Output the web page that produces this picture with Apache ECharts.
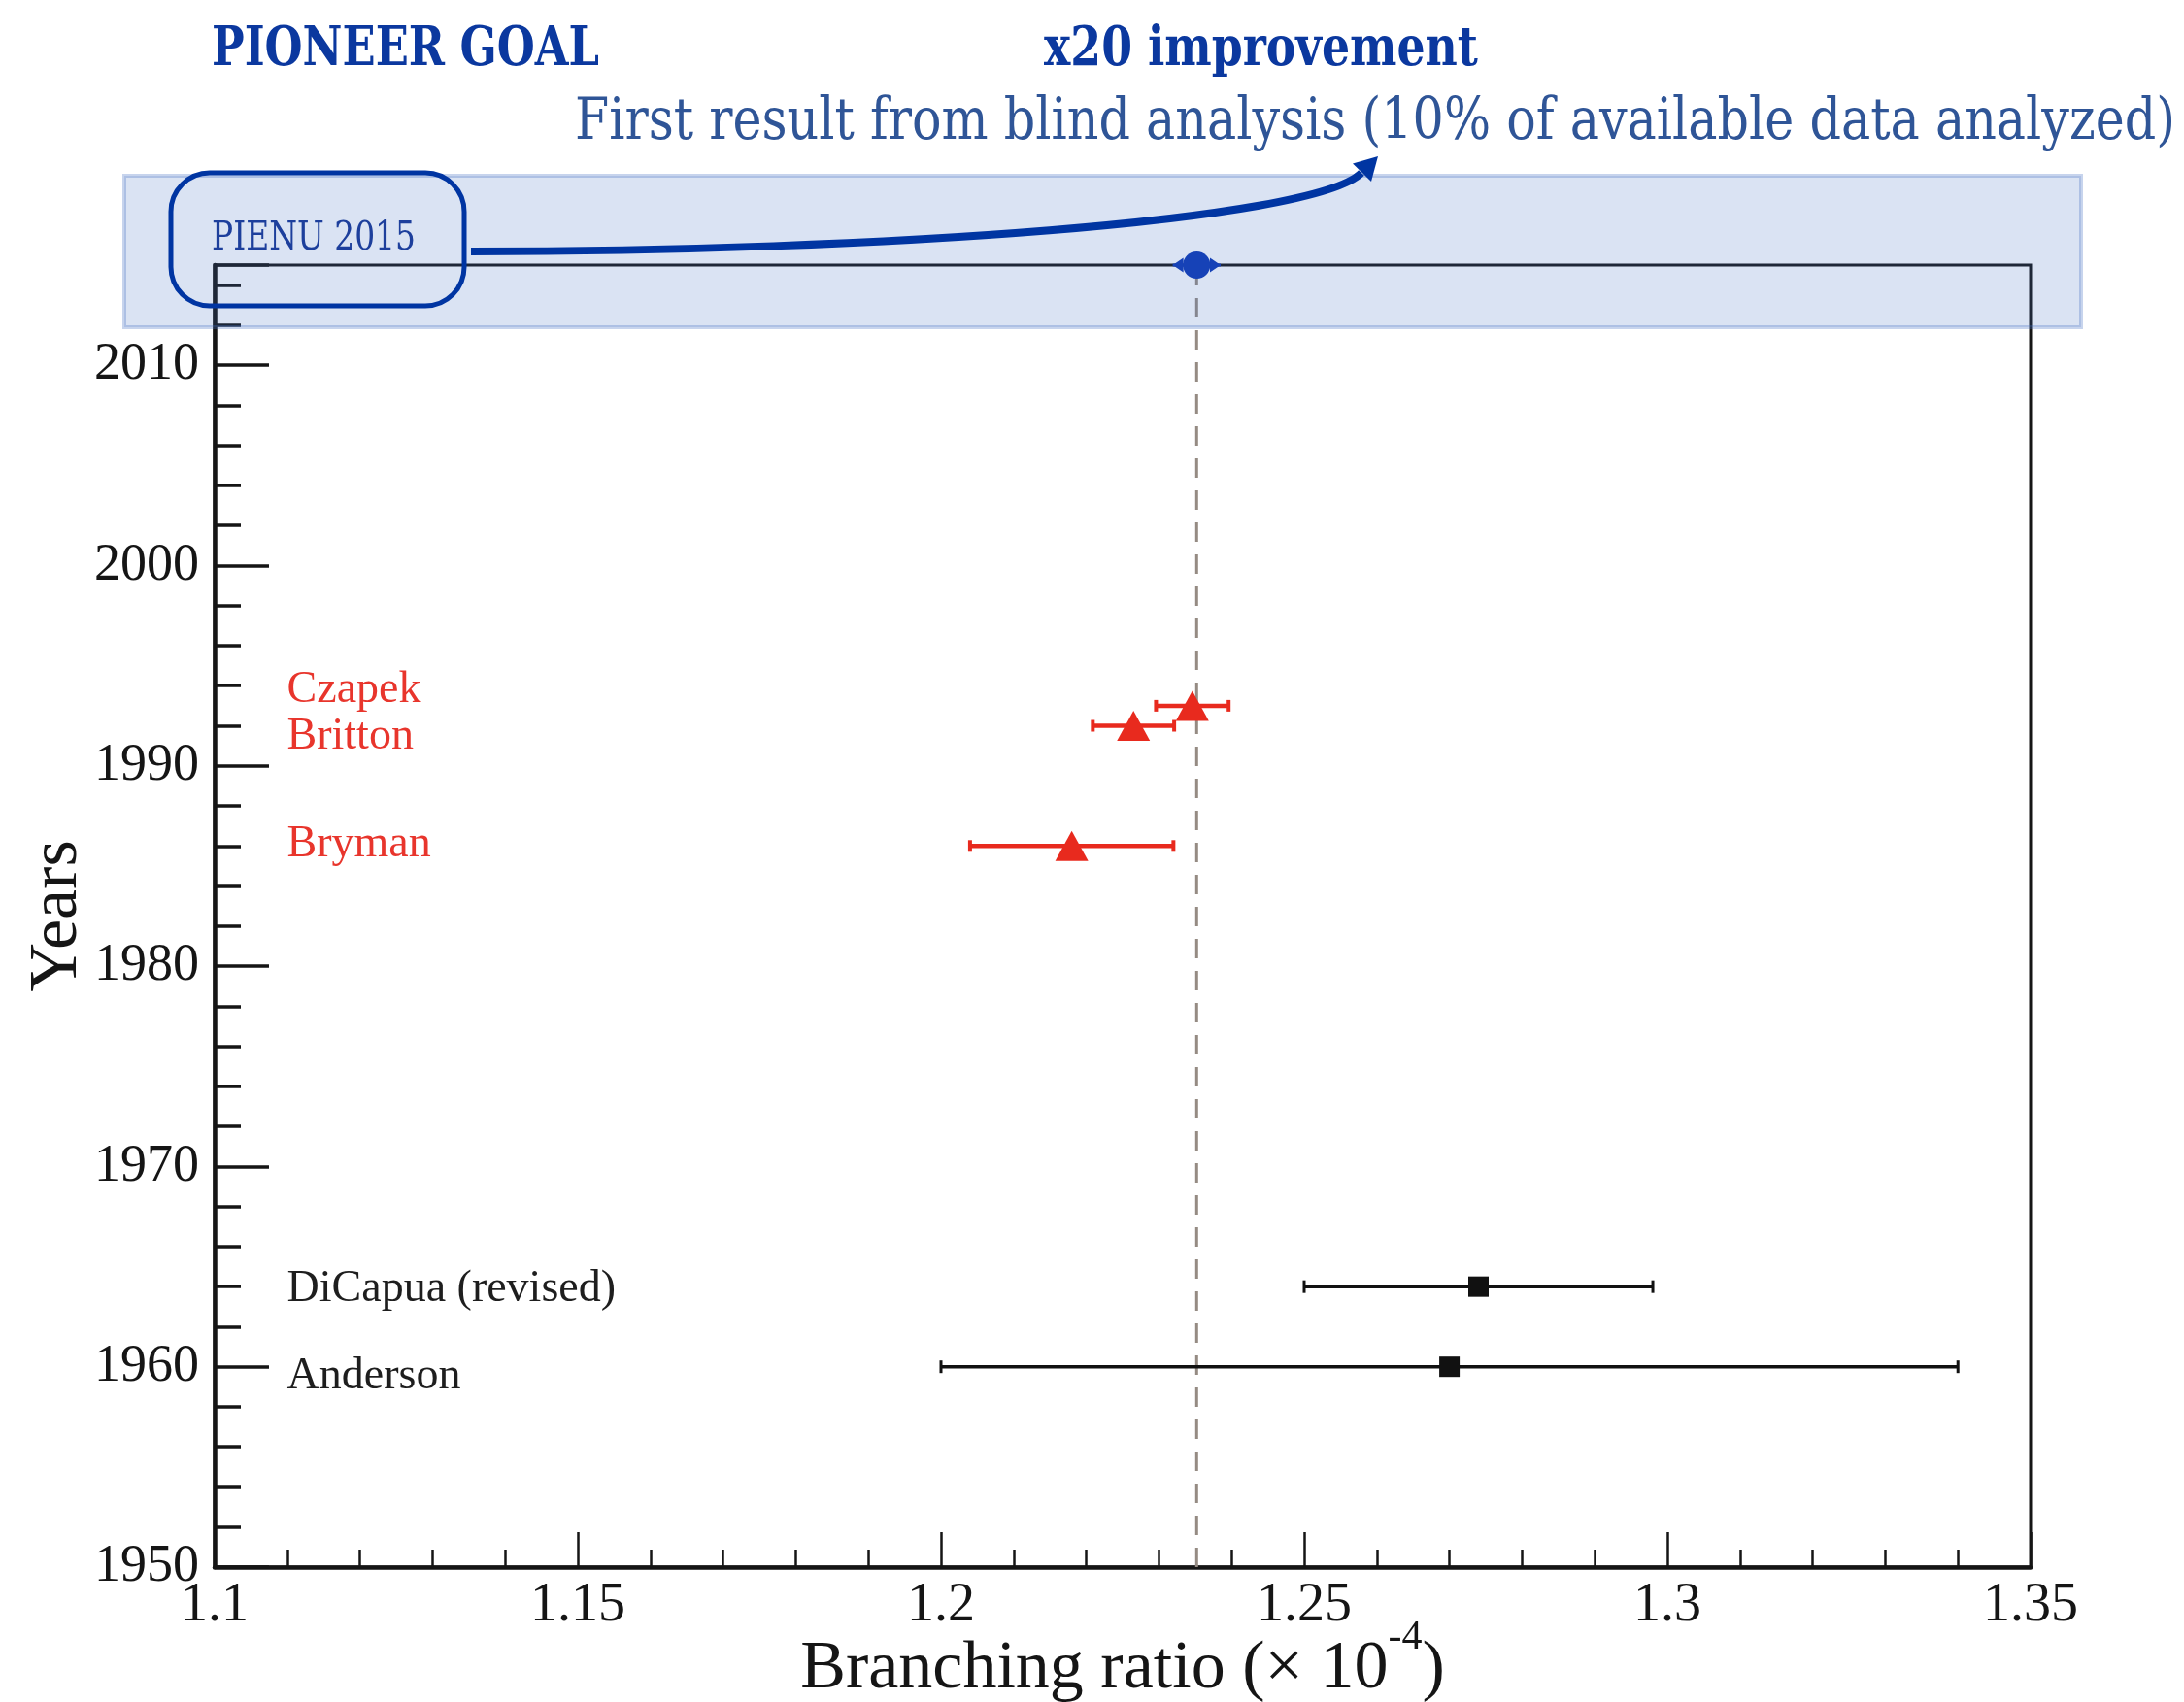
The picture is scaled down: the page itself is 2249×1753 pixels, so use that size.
<!DOCTYPE html>
<html>
<head>
<meta charset="utf-8">
<script src="https://cdn.jsdelivr.net/npm/echarts@6/dist/echarts.min.js"></script>
<style>
  html, body { margin: 0; padding: 0; background: #ffffff; }
  #chart { width: 2249px; height: 1753px; }
</style>
</head>
<body>
<div id="chart"></div>
<script>
// pi -> e nu branching ratio measurements (x 10^-4) by publication year
const experiments = ['Anderson', 'DiCapua (revised)', 'Bryman', 'Britton', 'Czapek', 'PIENU 2015'];
const years  = [1960, 1964, 1986, 1992, 1993, 2015];
const ratios = [1.270, 1.274, 1.218, 1.2265, 1.2346, 1.2352];
const errors = [0.070, 0.024, 0.014, 0.0056, 0.0050, 0.0033];
const groups = ['early', 'early', 'triumf', 'triumf', 'triumf', 'pienu'];

// Standard Model prediction (dashed reference line)
const smPrediction = 1.2352;

// axis tick labels
const xTickLabels = ['1.1', '1.15', '1.2', '1.25', '1.3', '1.35'];
const yTickLabels = ['1950', '1960', '1970', '1980', '1990', '2000', '2010'];

// experiment name annotations (text and the year level they sit at)
const noteTexts = ['Czapek', 'Britton', 'Bryman', 'DiCapua (revised)', 'Anderson'];
const noteYears = [1993.75, 1991.45, 1986.05, 1963.85, 1959.5];
const noteColors = ['#e8352c', '#e8352c', '#e8352c', '#1e1e1e', '#1e1e1e'];
const noteX = 1.1099;

// ---- styling ----
const SERIF = 'Liberation Serif';
const INK = '#151515';
const groupStyle = {
  early:  { color: '#111111', bar: 3.5, cap: 13, capW: 3, symbol: 'rect', size: 21 },
  triumf: { color: '#e82a1e', bar: 4.5, cap: 12, capW: 4, symbol: 'triangle', size: [34, 31] },
  pienu:  { color: '#0a36b4', bar: 3, arrowCaps: true, symbol: 'circle', size: 28 }
};

const gridBox = { left: 221, right: 158, top: 273, bottom: 139, outerBoundsMode: 'none', containLabel: false };

function renderErrorBar(params, api) {
  const g = groupStyle[groups[params.dataIndex]];
  const x = api.value(0), y = api.value(1), e = api.value(2);
  const lo = api.coord([x - e, y]);
  const hi = api.coord([x + e, y]);
  const children = [{
    type: 'line',
    shape: { x1: lo[0], y1: lo[1], x2: hi[0], y2: hi[1] },
    style: { stroke: g.color, lineWidth: g.bar }
  }];
  if (g.arrowCaps) {
    const len = 11, half = 7.5;
    children.push({
      type: 'polygon',
      shape: { points: [[lo[0], lo[1]], [lo[0] + len, lo[1] - half], [lo[0] + len, lo[1] + half]] },
      style: { fill: g.color }
    });
    children.push({
      type: 'polygon',
      shape: { points: [[hi[0], hi[1]], [hi[0] - len, hi[1] - half], [hi[0] - len, hi[1] + half]] },
      style: { fill: g.color }
    });
  } else {
    [lo, hi].forEach(p => children.push({
      type: 'line',
      shape: { x1: p[0], y1: p[1] - g.cap / 2, x2: p[0], y2: p[1] + g.cap / 2 },
      style: { stroke: g.color, lineWidth: g.capW }
    }));
  }
  return { type: 'group', children };
}

function markerSeries(groupName) {
  const g = groupStyle[groupName];
  const data = [];
  years.forEach((yr, i) => { if (groups[i] === groupName) data.push([ratios[i], yr]); });
  return {
    type: 'scatter',
    name: groupName,
    clip: false,
    symbol: g.symbol,
    symbolSize: g.size,
    itemStyle: { color: g.color, opacity: 1 },
    data,
    z: 5
  };
}

// fixed-width annotation text: the font is squeezed horizontally to span a given width
const measureCtx = document.createElement('canvas').getContext('2d');
function fittedText(text, weight, size, left, midY, width, color) {
  measureCtx.font = weight + ' ' + size + 'px "DejaVu Serif"';
  const w = measureCtx.measureText(text).width;
  return {
    type: 'text', x: left, y: midY, scaleX: width / w, z: 70,
    style: {
      text, fontFamily: 'DejaVu Serif', fontWeight: weight, fontSize: size,
      fill: color, align: 'left', verticalAlign: 'middle'
    }
  };
}

const chart = echarts.init(document.getElementById('chart'), null, { renderer: 'canvas' });

const option = {
  backgroundColor: '#ffffff',
  animation: false,
  grid: [
    Object.assign({ show: true, borderColor: INK, borderWidth: 3, backgroundColor: 'transparent' }, gridBox),
    Object.assign({ show: false }, gridBox)
  ],
  xAxis: [{
    gridIndex: 0,
    type: 'value', min: 1.1, max: 1.35, interval: 0.05,
    axisLine: { show: true, lineStyle: { color: INK, width: 4.5 } },
    axisTick: { show: true, inside: true, length: 36, lineStyle: { color: INK, width: 2.5 } },
    minorTick: { show: true, splitNumber: 5, length: 18, lineStyle: { color: INK, width: 2.5 } },
    splitLine: { show: false },
    axisLabel: {
      margin: 12, fontSize: 56, fontFamily: SERIF, color: INK,
      formatter: (v, i) => xTickLabels[i] ?? ''
    },
    name: '{a|Branching ratio (× 10}{s|-4}{a|)}',
    nameLocation: 'middle',
    nameGap: 52,
    nameMoveOverlap: false,
    nameTextStyle: {
      rich: {
        a: { fontSize: 70, fontFamily: SERIF, color: INK, lineHeight: 108 },
        s: { fontSize: 42, fontFamily: SERIF, color: INK, lineHeight: 42, verticalAlign: 'top' }
      }
    }
  }, {
    gridIndex: 1, type: 'value', min: 1.1, max: 1.35, show: false
  }],
  yAxis: [{
    // minor (2-year) ticks and the axis line
    gridIndex: 0,
    type: 'value', min: 1950, max: 2015, interval: 2,
    axisLine: { show: true, lineStyle: { color: INK, width: 4.5 } },
    axisTick: { show: true, inside: true, length: 27, lineStyle: { color: INK, width: 3.5 } },
    axisLabel: { show: false },
    splitLine: { show: false }
  }, {
    // decade ticks, labels and title
    gridIndex: 1,
    type: 'value', min: 1950, max: 2015, interval: 10,
    axisLine: { show: false },
    axisTick: { show: true, inside: true, length: 56, lineStyle: { color: INK, width: 3.5 } },
    splitLine: { show: false },
    axisLabel: {
      margin: 16, fontSize: 54, fontFamily: SERIF, color: INK,
      formatter: (v, i) => yTickLabels[i] ?? ''
    },
    name: 'Years',
    nameLocation: 'middle',
    nameGap: 126,
    nameMoveOverlap: false,
    nameRotate: 90,
    nameTextStyle: { fontSize: 70, fontFamily: SERIF, color: INK }
  }],
  series: [
    {
      type: 'line',
      name: 'SM prediction',
      data: [[smPrediction, 1950], [smPrediction, 2015]],
      symbol: 'none',
      lineStyle: { color: '#958b83', width: 3, type: [20, 13] },
      z: 1
    },
    {
      type: 'custom',
      name: 'errors',
      clip: false,
      renderItem: renderErrorBar,
      encode: { x: 0, y: 1 },
      data: years.map((yr, i) => [ratios[i], yr, errors[i]]),
      z: 4
    },
    markerSeries('early'),
    markerSeries('triumf'),
    markerSeries('pienu'),
    {
      type: 'scatter',
      name: 'notes',
      symbolSize: 1,
      itemStyle: { color: 'rgba(0,0,0,0)', opacity: 1 },
      silent: true,
      data: noteYears.map((yr, i) => ({
        value: [noteX, yr],
        label: { formatter: noteTexts[i], color: noteColors[i] }
      })),
      label: {
        show: true, position: 'right', distance: 0, opacity: 1,
        fontSize: 46, fontFamily: SERIF
      },
      z: 6
    }
  ],
  graphic: [
    // highlighted band around the newest result
    {
      type: 'rect', z: 50,
      shape: { x: 128, y: 181, width: 2015, height: 156 },
      style: { fill: 'rgba(68,114,196,0.2)', stroke: 'rgba(68,114,196,0.3)', lineWidth: 4 }
    },
    {
      type: 'rect', z: 60,
      shape: { x: 176, y: 178, width: 302, height: 137, r: 40 },
      style: { fill: 'none', stroke: '#0035a2', lineWidth: 5 }
    },
    {
      type: 'bezierCurve', z: 60,
      shape: { x1: 485, y1: 259, cpx1: 900, cpy1: 259, cpx2: 1353, cpy2: 228, x2: 1402, y2: 178 },
      style: { stroke: '#0035a2', lineWidth: 8, fill: 'none' }
    },
    {
      type: 'polygon', z: 60,
      shape: { points: [[1419, 161], [1393, 168.5], [1412, 187]] },
      style: { fill: '#0035a2' }
    },
    fittedText('PIENU 2015', 'normal', 41, 218, 246, 210, '#1d3f9c'),
    fittedText('PIONEER GOAL', 'bold', 56, 218, 52, 399, '#0b389f'),
    fittedText('x20 improvement', 'bold', 56, 1075, 52, 447, '#0b389f'),
    fittedText('First result from blind analysis (10% of available data analyzed)', 'normal', 60, 592, 127, 1648, '#2f5597')
  ]
};

chart.setOption(option);
</script>
</body>
</html>
